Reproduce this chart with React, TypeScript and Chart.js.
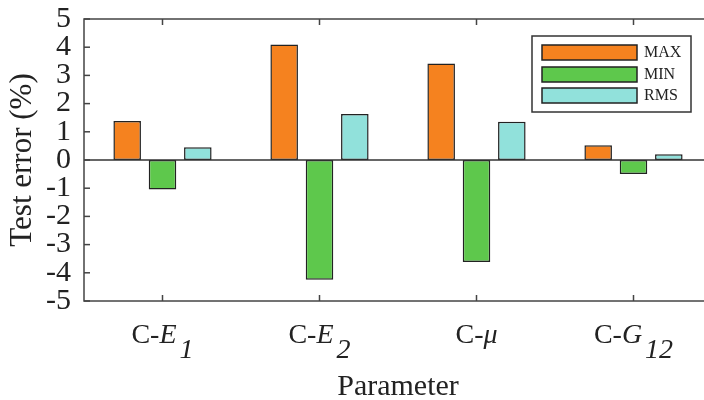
import React, { useEffect, useRef } from "react";
import { Chart, registerables } from "chart.js";
Chart.register(...registerables);

const categories = ["C-E1", "C-E2", "C-μ", "C-G12"];
const labelPrefix = ["C-", "C-", "C-", "C-"];
const labelMain = ["E", "E", "μ", "G"];
const labelSub = ["1", "2", "", "12"];
const seriesNames = ["MAX", "MIN", "RMS"];
const maxValues = [1.38, 4.1, 3.42, 0.52];
const minValues = [-1.05, -4.25, -3.62, -0.5];
const rmsValues = [0.45, 1.63, 1.36, 0.2];
const yTickValues = [-5, -4, -3, -2, -1, 0, 1, 2, 3, 4, 5];
const xTitle = "Parameter";
const yTitle = "Test error (%)";

const colors = ["#F5821F", "#5EC84C", "#91E1DB"];
const SERIF = "'Liberation Serif', 'Times New Roman', serif";

const decorPlugin = {
  id: "decor",
  afterDatasetsDraw(chart: any) {
    const ctx = chart.ctx;
    const { left, right, top, bottom } = chart.chartArea;
    const xs = chart.scales.x;
    const ys = chart.scales.y;
    ctx.save();
    // zero line
    const y0 = ys.getPixelForValue(0);
    ctx.strokeStyle = "#333";
    ctx.lineWidth = 1.5;
    ctx.beginPath();
    ctx.moveTo(left, y0);
    ctx.lineTo(right, y0);
    ctx.stroke();
    // frame
    ctx.strokeStyle = "#444";
    ctx.lineWidth = 1.5;
    ctx.strokeRect(left, top, right - left, bottom - top);
    // y ticks
    yTickValues.forEach((v) => {
      const y = ys.getPixelForValue(v);
      ctx.strokeStyle = "#444";
      ctx.beginPath();
      ctx.moveTo(left, y);
      ctx.lineTo(left + 6, y);
      ctx.stroke();
      ctx.strokeStyle = "#ccc";
      ctx.beginPath();
      ctx.moveTo(right - 6, y);
      ctx.lineTo(right, y);
      ctx.stroke();
    });
    // x ticks
    ctx.strokeStyle = "#444";
    categories.forEach((_, i) => {
      const x = xs.getPixelForValue(i);
      ctx.beginPath();
      ctx.moveTo(x, bottom);
      ctx.lineTo(x, bottom - 6);
      ctx.moveTo(x, top);
      ctx.lineTo(x, top + 6);
      ctx.stroke();
    });
    // x labels
    ctx.fillStyle = "#222";
    ctx.textBaseline = "alphabetic";
    ctx.textAlign = "left";
    const normalFont = `28px ${SERIF}`;
    const italicFont = `italic 28px ${SERIF}`;
    categories.forEach((_, i) => {
      const x = xs.getPixelForValue(i);
      ctx.font = normalFont;
      const wPre = ctx.measureText(labelPrefix[i]).width;
      ctx.font = italicFont;
      const wMain = ctx.measureText(labelMain[i]).width;
      const gap = labelSub[i] ? 3 : 0;
      const wSub = labelSub[i] ? ctx.measureText(labelSub[i]).width : 0;
      const total = wPre + wMain + gap + wSub;
      let cx = x - total / 2;
      const base = 343;
      ctx.font = normalFont;
      ctx.fillText(labelPrefix[i], cx, base);
      cx += wPre;
      ctx.font = italicFont;
      ctx.fillText(labelMain[i], cx, base);
      cx += wMain + gap;
      if (labelSub[i]) ctx.fillText(labelSub[i], cx, base + 15);
    });
    // x title
    ctx.font = `30px ${SERIF}`;
    ctx.textAlign = "center";
    ctx.fillText(xTitle, (left + right) / 2, 395);
    // y title
    ctx.save();
    ctx.font = `31px ${SERIF}`;
    ctx.translate(31, (top + bottom) / 2);
    ctx.rotate(-Math.PI / 2);
    ctx.textAlign = "center";
    ctx.textBaseline = "alphabetic";
    ctx.fillText(yTitle, 0, 0);
    ctx.restore();
    // legend
    const lx = 532, ly = 36, lw = 159, lh = 76;
    ctx.fillStyle = "#fff";
    ctx.fillRect(lx, ly, lw, lh);
    ctx.strokeStyle = "#333";
    ctx.lineWidth = 1.5;
    ctx.strokeRect(lx, ly, lw, lh);
    const rowsY = [45, 67, 88];
    seriesNames.forEach((name, k) => {
      ctx.fillStyle = colors[k];
      ctx.fillRect(542, rowsY[k], 95, 15);
      ctx.strokeStyle = "#222";
      ctx.lineWidth = 1.5;
      ctx.strokeRect(542, rowsY[k], 95, 15);
      ctx.fillStyle = "#222";
      ctx.font = `16px ${SERIF}`;
      ctx.textAlign = "left";
      ctx.textBaseline = "middle";
      ctx.fillText(name, 644, rowsY[k] + 8);
    });
    ctx.restore();
  },
};

export default function App() {
  const ref = useRef<HTMLCanvasElement | null>(null);
  useEffect(() => {
    if (!ref.current) return;
    const datasets = [maxValues, minValues, rmsValues].map((d, k) => ({
      label: seriesNames[k],
      data: d,
      backgroundColor: colors[k],
      borderColor: "#222",
      borderWidth: 1.5,
      borderSkipped: false,
      categoryPercentage: 0.675,
      barPercentage: 0.78,
    }));
    const chart = new Chart(ref.current, {
      type: "bar",
      data: { labels: categories, datasets },
      options: {
        responsive: false,
        animation: false,
        devicePixelRatio: 1,
        layout: { padding: { top: 19, right: 8, left: 0, bottom: 0 } },
        plugins: { legend: { display: false }, tooltip: { enabled: false } },
        scales: {
          x: {
            offset: true,
            grid: { display: false, drawTicks: false },
            border: { display: false },
            ticks: { display: false },
            afterFit: (s: any) => {
              s.height = 99;
              s.paddingLeft = 0;
              s.paddingRight = 0;
            },
          },
          y: {
            min: -5,
            max: 5,
            grid: { display: false, drawTicks: false },
            border: { display: false },
            ticks: {
              stepSize: 1,
              autoSkip: false,
              padding: 13,
              color: "#222",
              font: { family: SERIF, size: 30 },
            },
            afterFit: (s: any) => {
              s.width = 84;
              s.paddingTop = 0;
              s.paddingBottom = 0;
            },
          },
        },
      },
      plugins: [decorPlugin],
    });
    return () => chart.destroy();
  }, []);
  return (
    <div style={{ position: "fixed", left: 0, top: 0, width: 704, height: 400, overflow: "hidden", background: "#fff" }}>
      <canvas ref={ref} width={720} height={400} style={{ display: "block" }} />
    </div>
  );
}
